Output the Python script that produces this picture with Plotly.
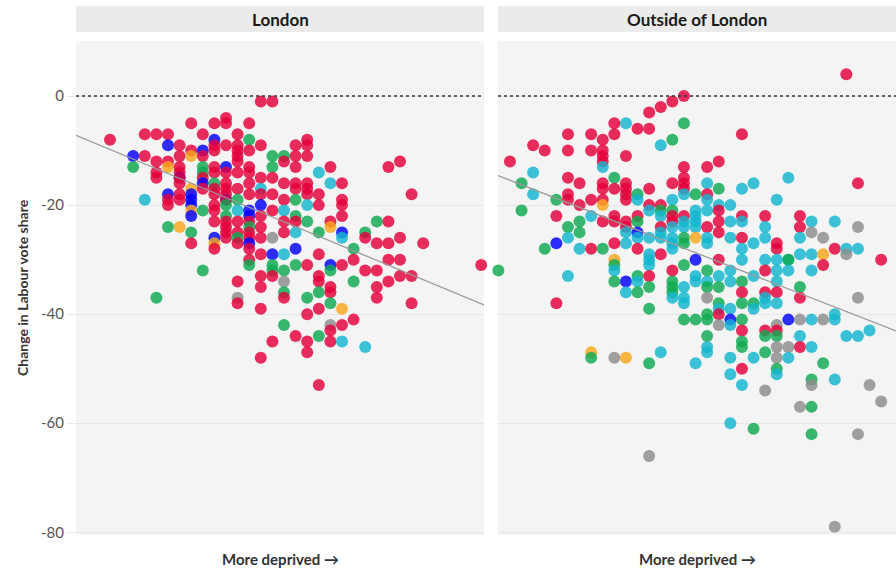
import plotly.graph_objects as go

# ---------------- data ----------------
# (deprivation column, change in Labour vote share, party code)
party_colors = {'R': '#E4003B', 'G': '#0DAA50', 'B': '#0000FF',
                'C': '#12B6CF', 'O': '#FAA61A', 'Y': '#8C8C8C'}

panel_titles = ["London", "Outside of London"]
x_axis_label = "More deprived \u2192"
y_axis_label = "Change in Labour vote share"
y_ticks = [0, -20, -40, -60, -80]
y_tick_labels = ["0", "-20", "-40", "-60", "-80"]

london_points = [
    (0, -8, 'R'),
    (2, -11, 'B'), (2, -13, 'G'),
    (3, -7, 'R'), (3, -11, 'R'), (3, -19, 'C'),
    (4, -7, 'R'), (4, -12, 'R'), (4, -14, 'R'), (4, -15, 'R'), (4, -37, 'G'),
    (5, -7, 'R'), (5, -9, 'B'), (5, -12, 'R'), (5, -13, 'O'), (5, -18, 'B'), (5, -19, 'R'), (5, -20, 'R'), (5, -24, 'G'),
    (6, -9, 'R'), (6, -11, 'R'), (6, -13, 'R'), (6, -14, 'R'), (6, -15, 'B'), (6, -15, 'R'), (6, -16, 'R'), (6, -18, 'R'), (6, -19, 'R'), (6, -24, 'O'),
    (7, -5, 'R'), (7, -10, 'R'), (7, -11, 'O'), (7, -17, 'O'), (7, -18, 'B'), (7, -19, 'B'), (7, -20, 'B'), (7, -21, 'O'), (7, -22, 'B'), (7, -25, 'G'), (7, -27, 'R'),
    (8, -7, 'R'), (8, -10, 'B'), (8, -11, 'R'), (8, -13, 'G'), (8, -14, 'G'), (8, -15, 'R'), (8, -16, 'B'), (8, -17, 'R'), (8, -21, 'G'), (8, -32, 'G'),
    (9, -5, 'R'), (9, -8, 'B'), (9, -9, 'R'), (9, -10, 'R'), (9, -13, 'R'), (9, -14, 'R'), (9, -16, 'G'), (9, -17, 'R'), (9, -18, 'R'), (9, -20, 'R'), (9, -21, 'R'), (9, -23, 'R'), (9, -26, 'B'), (9, -27, 'O'), (9, -28, 'R'),
    (10, -4, 'R'), (10, -5, 'R'), (10, -9, 'R'), (10, -13, 'B'), (10, -14, 'R'), (10, -16, 'R'), (10, -17, 'R'), (10, -18, 'R'), (10, -19, 'B'), (10, -19, 'R'), (10, -20, 'G'), (10, -22, 'G'), (10, -23, 'R'), (10, -24, 'R'), (10, -25, 'R'), (10, -26, 'R'),
    (11, -7, 'R'), (11, -9, 'R'), (11, -10, 'R'), (11, -11, 'R'), (11, -12, 'R'), (11, -14, 'R'), (11, -17, 'R'), (11, -19, 'G'), (11, -21, 'C'), (11, -23, 'R'), (11, -25, 'R'), (11, -26, 'G'), (11, -27, 'R'), (11, -34, 'R'), (11, -37, 'Y'), (11, -38, 'R'),
    (12, -5, 'R'), (12, -8, 'G'), (12, -10, 'R'), (12, -13, 'R'), (12, -14, 'R'), (12, -16, 'R'), (12, -18, 'R'), (12, -21, 'B'), (12, -22, 'B'), (12, -23, 'R'), (12, -24, 'G'), (12, -25, 'R'), (12, -26, 'R'), (12, -27, 'B'), (12, -28, 'R'), (12, -30, 'R'), (12, -31, 'G'),
    (13, -1, 'R'), (13, -9, 'R'), (13, -15, 'R'), (13, -17, 'C'), (13, -18, 'R'), (13, -20, 'B'), (13, -22, 'R'), (13, -24, 'R'), (13, -26, 'R'), (13, -29, 'R'), (13, -33, 'R'), (13, -35, 'R'), (13, -39, 'R'), (13, -48, 'R'),
    (14, -1, 'R'), (14, -11, 'G'), (14, -13, 'G'), (14, -15, 'R'), (14, -18, 'R'), (14, -21, 'R'), (14, -26, 'Y'), (14, -29, 'B'), (14, -31, 'G'), (14, -32, 'G'), (14, -33, 'R'), (14, -45, 'R'),
    (15, -11, 'G'), (15, -12, 'R'), (15, -16, 'R'), (15, -19, 'R'), (15, -21, 'C'), (15, -23, 'R'), (15, -25, 'R'), (15, -29, 'C'), (15, -32, 'G'), (15, -34, 'Y'), (15, -36, 'G'), (15, -37, 'R'), (15, -42, 'G'),
    (16, -9, 'R'), (16, -11, 'R'), (16, -13, 'R'), (16, -16, 'R'), (16, -17, 'R'), (16, -19, 'G'), (16, -22, 'G'), (16, -23, 'R'), (16, -25, 'C'), (16, -28, 'B'), (16, -31, 'G'), (16, -44, 'R'),
    (17, -8, 'R'), (17, -9, 'R'), (17, -11, 'R'), (17, -16, 'R'), (17, -17, 'R'), (17, -18, 'R'), (17, -20, 'C'), (17, -23, 'G'), (17, -31, 'R'), (17, -37, 'G'), (17, -40, 'R'), (17, -45, 'R'), (17, -47, 'R'),
    (18, -14, 'C'), (18, -18, 'R'), (18, -20, 'R'), (18, -25, 'G'), (18, -29, 'R'), (18, -33, 'R'), (18, -34, 'R'), (18, -36, 'G'), (18, -39, 'R'), (18, -44, 'G'), (18, -53, 'R'),
    (19, -13, 'R'), (19, -16, 'C'), (19, -23, 'R'), (19, -24, 'O'), (19, -31, 'B'), (19, -32, 'G'), (19, -35, 'R'), (19, -36, 'R'), (19, -38, 'G'), (19, -42, 'Y'), (19, -43, 'R'), (19, -45, 'R'),
    (20, -16, 'R'), (20, -19, 'R'), (20, -20, 'R'), (20, -22, 'R'), (20, -25, 'B'), (20, -26, 'C'), (20, -31, 'R'), (20, -39, 'O'), (20, -42, 'R'), (20, -45, 'C'),
    (21, -28, 'G'), (21, -30, 'R'), (21, -34, 'G'), (21, -41, 'R'),
    (22, -25, 'G'), (22, -26, 'R'), (22, -32, 'R'), (22, -46, 'C'),
    (23, -23, 'G'), (23, -27, 'R'), (23, -32, 'R'), (23, -35, 'R'), (23, -37, 'R'),
    (24, -13, 'R'), (24, -23, 'R'), (24, -27, 'R'), (24, -30, 'R'), (24, -34, 'R'),
    (25, -12, 'R'), (25, -26, 'R'), (25, -30, 'R'), (25, -33, 'R'),
    (26, -18, 'R'), (26, -33, 'R'), (26, -38, 'R'),
    (27, -27, 'R'),
    (32, -31, 'R'),
]

outside_points = [
    (0, -32, 'G'),
    (1, -12, 'R'),
    (2, -16, 'G'), (2, -21, 'G'),
    (3, -9, 'R'), (3, -14, 'C'), (3, -18, 'C'),
    (4, -10, 'R'), (4, -28, 'G'),
    (5, -19, 'G'), (5, -22, 'R'), (5, -27, 'B'), (5, -38, 'R'),
    (6, -7, 'R'), (6, -10, 'R'), (6, -15, 'R'), (6, -18, 'R'), (6, -19, 'R'), (6, -24, 'G'), (6, -26, 'C'), (6, -33, 'C'),
    (7, -16, 'R'), (7, -20, 'R'), (7, -23, 'G'), (7, -25, 'G'), (7, -28, 'C'),
    (8, -7, 'R'), (8, -10, 'R'), (8, -19, 'R'), (8, -22, 'C'), (8, -28, 'R'), (8, -47, 'O'), (8, -48, 'G'),
    (9, -8, 'R'), (9, -10, 'R'), (9, -11, 'R'), (9, -12, 'R'), (9, -13, 'C'), (9, -16, 'R'), (9, -17, 'R'), (9, -19, 'R'), (9, -20, 'O'), (9, -23, 'R'), (9, -28, 'G'),
    (10, -5, 'R'), (10, -7, 'R'), (10, -15, 'G'), (10, -17, 'R'), (10, -22, 'R'), (10, -23, 'R'), (10, -27, 'R'), (10, -30, 'O'), (10, -31, 'G'), (10, -32, 'C'), (10, -34, 'G'), (10, -48, 'Y'),
    (11, -5, 'C'), (11, -11, 'R'), (11, -16, 'R'), (11, -17, 'R'), (11, -18, 'R'), (11, -19, 'R'), (11, -23, 'R'), (11, -24, 'R'), (11, -25, 'C'), (11, -27, 'C'), (11, -34, 'B'), (11, -36, 'C'), (11, -48, 'O'),
    (12, -6, 'R'), (12, -18, 'G'), (12, -19, 'C'), (12, -22, 'R'), (12, -23, 'G'), (12, -25, 'B'), (12, -26, 'C'), (12, -28, 'R'), (12, -33, 'G'), (12, -34, 'C'), (12, -36, 'G'),
    (13, -3, 'R'), (13, -6, 'R'), (13, -17, 'R'), (13, -20, 'R'), (13, -21, 'C'), (13, -26, 'C'), (13, -29, 'C'), (13, -30, 'C'), (13, -31, 'C'), (13, -33, 'R'), (13, -35, 'G'), (13, -39, 'G'), (13, -49, 'G'), (13, -66, 'Y'),
    (14, -2, 'R'), (14, -9, 'C'), (14, -20, 'R'), (14, -21, 'G'), (14, -22, 'C'), (14, -24, 'R'), (14, -25, 'C'), (14, -26, 'C'), (14, -29, 'R'), (14, -47, 'C'),
    (15, -1, 'R'), (15, -8, 'G'), (15, -16, 'R'), (15, -19, 'C'), (15, -21, 'G'), (15, -22, 'R'), (15, -23, 'R'), (15, -24, 'C'), (15, -26, 'C'), (15, -27, 'C'), (15, -28, 'C'), (15, -32, 'R'), (15, -34, 'G'), (15, -35, 'G'), (15, -36, 'G'), (15, -37, 'C'),
    (16, 0, 'R'), (16, -5, 'G'), (16, -13, 'R'), (16, -15, 'R'), (16, -16, 'R'), (16, -17, 'R'), (16, -18, 'C'), (16, -22, 'R'), (16, -23, 'C'), (16, -24, 'C'), (16, -26, 'G'), (16, -27, 'G'), (16, -31, 'G'), (16, -35, 'C'), (16, -37, 'C'), (16, -38, 'C'), (16, -41, 'G'),
    (17, -18, 'G'), (17, -21, 'C'), (17, -22, 'C'), (17, -23, 'C'), (17, -24, 'C'), (17, -26, 'O'), (17, -30, 'B'), (17, -33, 'C'), (17, -34, 'C'), (17, -41, 'G'), (17, -49, 'C'),
    (18, -13, 'R'), (18, -16, 'C'), (18, -18, 'R'), (18, -19, 'C'), (18, -21, 'C'), (18, -24, 'R'), (18, -26, 'C'), (18, -27, 'C'), (18, -32, 'G'), (18, -34, 'C'), (18, -35, 'G'), (18, -37, 'Y'), (18, -40, 'G'), (18, -41, 'G'), (18, -44, 'G'), (18, -46, 'C'), (18, -47, 'C'),
    (19, -12, 'R'), (19, -17, 'G'), (19, -20, 'C'), (19, -21, 'R'), (19, -23, 'R'), (19, -25, 'R'), (19, -30, 'R'), (19, -33, 'C'), (19, -35, 'G'), (19, -38, 'G'), (19, -39, 'C'), (19, -40, 'R'), (19, -42, 'Y'),
    (20, -20, 'C'), (20, -23, 'C'), (20, -26, 'C'), (20, -32, 'C'), (20, -34, 'C'), (20, -39, 'C'), (20, -41, 'B'), (20, -42, 'C'), (20, -48, 'C'), (20, -51, 'C'), (20, -60, 'C'),
    (21, -7, 'R'), (21, -17, 'C'), (21, -22, 'R'), (21, -23, 'C'), (21, -26, 'R'), (21, -28, 'C'), (21, -30, 'C'), (21, -34, 'G'), (21, -36, 'R'), (21, -38, 'G'), (21, -41, 'G'), (21, -43, 'R'), (21, -45, 'G'), (21, -46, 'G'), (21, -50, 'R'), (21, -53, 'C'),
    (22, -16, 'C'), (22, -27, 'C'), (22, -33, 'C'), (22, -38, 'G'), (22, -39, 'C'), (22, -48, 'C'), (22, -61, 'G'),
    (23, -22, 'R'), (23, -24, 'C'), (23, -26, 'C'), (23, -30, 'C'), (23, -32, 'R'), (23, -36, 'R'), (23, -37, 'C'), (23, -38, 'C'), (23, -43, 'R'), (23, -44, 'G'), (23, -47, 'G'), (23, -54, 'Y'),
    (24, -19, 'C'), (24, -27, 'R'), (24, -28, 'R'), (24, -30, 'C'), (24, -32, 'C'), (24, -34, 'C'), (24, -36, 'R'), (24, -38, 'C'), (24, -42, 'Y'), (24, -43, 'R'), (24, -44, 'G'), (24, -46, 'Y'), (24, -48, 'Y'), (24, -50, 'G'), (24, -51, 'C'),
    (25, -15, 'C'), (25, -30, 'C'), (25, -30, 'G'), (25, -32, 'C'), (25, -41, 'B'), (25, -46, 'Y'), (25, -48, 'C'),
    (26, -22, 'R'), (26, -24, 'R'), (26, -26, 'C'), (26, -29, 'C'), (26, -35, 'G'), (26, -37, 'R'), (26, -41, 'Y'), (26, -44, 'C'), (26, -46, 'R'), (26, -57, 'Y'),
    (27, -23, 'C'), (27, -25, 'Y'), (27, -29, 'C'), (27, -32, 'C'), (27, -41, 'C'), (27, -46, 'C'), (27, -52, 'G'), (27, -53, 'Y'), (27, -57, 'G'), (27, -62, 'G'),
    (28, -26, 'Y'), (28, -29, 'O'), (28, -31, 'R'), (28, -41, 'Y'), (28, -49, 'G'),
    (29, -23, 'C'), (29, -28, 'R'), (29, -40, 'C'), (29, -41, 'C'), (29, -52, 'C'), (29, -79, 'Y'),
    (30, 4, 'R'), (30, -28, 'C'), (30, -29, 'Y'), (30, -44, 'C'),
    (31, -16, 'R'), (31, -24, 'Y'), (31, -28, 'C'), (31, -37, 'Y'), (31, -44, 'C'), (31, -62, 'Y'),
    (32, -43, 'C'), (32, -53, 'Y'),
    (33, -30, 'R'), (33, -56, 'Y'),
]

# fitted trend lines: (intercept at column 0, slope per column)
london_trend = (-9.8, -0.884)
outside_trend = (-14.6, -0.831)

# ---------------- figure ----------------
W, H = 896, 568
def px_x(p): return p / W
def px_y(p): return 1 - p / H

x_ranges = [[-2.93, 32.24], [-0.03, 34.28]]
x_domains = [[px_x(76), px_x(484)], [px_x(498), 1.0]]
y_domain = [px_y(535), px_y(41)]
y_range = [-80.5, 10.1]

fig = go.Figure()
for i, (pts, trend) in enumerate([(london_points, london_trend), (outside_points, outside_trend)]):
    xa = 'x' if i == 0 else 'x2'
    ya = 'y' if i == 0 else 'y2'
    xs = [p[0] for p in pts]
    ys = [p[1] for p in pts]
    cs = [party_colors[p[2]] for p in pts]
    fig.add_trace(go.Scatter(
        x=xs, y=ys, mode='markers', xaxis=xa, yaxis=ya,
        marker=dict(size=12, color=cs, opacity=0.82, line=dict(width=0)),
        cliponaxis=False, showlegend=False, hoverinfo='skip'))
    x0, x1 = x_ranges[i]
    fig.add_trace(go.Scatter(
        x=[x0, x1], y=[trend[0] + trend[1] * x0, trend[0] + trend[1] * x1],
        mode='lines', xaxis=xa, yaxis=ya,
        line=dict(color='#9a9a9a', width=1.3), showlegend=False, hoverinfo='skip'))

font_family = "Lato, 'Open Sans', sans-serif"
axis_common = dict(showgrid=False, zeroline=False, showticklabels=False, ticks='', showline=False,
                   fixedrange=True, automargin=False)
yaxis_common = dict(range=y_range, domain=y_domain, tickvals=y_ticks, ticktext=y_tick_labels,
                    showgrid=True, gridcolor='#E6E6E6', gridwidth=1, zeroline=False, showline=False,
                    automargin=False, fixedrange=True)

fig.update_layout(
    width=W, height=H, autosize=False,
    margin=dict(l=0, r=0, t=0, b=0, pad=0, autoexpand=False),
    paper_bgcolor='white', plot_bgcolor='#F4F4F4',
    font=dict(family=font_family, color='#333'),
    showlegend=False,
    xaxis=dict(domain=x_domains[0], range=x_ranges[0], anchor='y', **axis_common),
    xaxis2=dict(domain=x_domains[1], range=x_ranges[1], anchor='y2', **axis_common),
    yaxis=dict(anchor='x', ticks='outside', ticklen=8, tickcolor='#E6E6E6',
               tickfont=dict(size=15, color='#555'), **yaxis_common),
    yaxis2=dict(anchor='x2', ticks='', showticklabels=False, **yaxis_common),
)

shapes = []
annotations = []
for i in range(2):
    d = x_domains[i]
    shapes.append(dict(type='rect', xref='paper', yref='paper', x0=d[0], x1=d[1],
                       y0=px_y(32), y1=px_y(6), fillcolor='#EBEBEB', line=dict(width=0), layer='below'))
    xr = 'x domain' if i == 0 else 'x2 domain'
    yr = 'y' if i == 0 else 'y2'
    shapes.append(dict(type='line', xref=xr, yref=yr, x0=0, x1=1, y0=0, y1=0,
                       line=dict(color='#333', width=1.6, dash='dot')))
    annotations.append(dict(text=panel_titles[i], xref='paper', yref='paper',
                            x=(d[0] + d[1]) / 2, y=px_y(19), showarrow=False,
                            xanchor='center', yanchor='middle',
                            font=dict(size=17, color='#1a1a1a', family=font_family, weight='bold')))
    annotations.append(dict(text=x_axis_label, xref='paper', yref='paper',
                            x=(d[0] + d[1]) / 2, y=px_y(559), showarrow=False,
                            xanchor='center', yanchor='middle',
                            font=dict(size=15, color='#333', family=font_family, weight='bold')))
annotations.append(dict(text=y_axis_label, xref='paper', yref='paper', x=px_x(22), y=px_y(288),
                        showarrow=False, textangle=-90, xanchor='center', yanchor='middle',
                        font=dict(size=14, color='#333', family=font_family, weight='bold')))
fig.update_layout(shapes=shapes, annotations=annotations)

fig.write_html("out.html",
               config={'displayModeBar': False, 'responsive': False},
               post_script="document.body.style.margin='0';document.body.style.padding='0';")
